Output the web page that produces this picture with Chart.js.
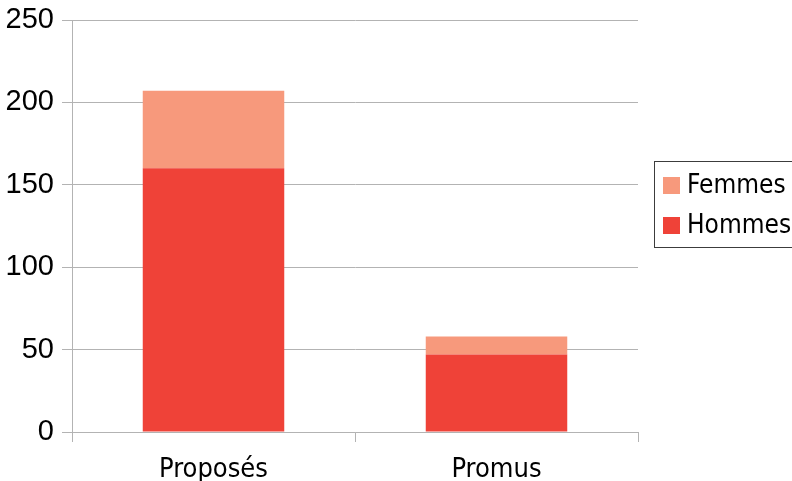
<!DOCTYPE html>
<html>
<head>
<meta charset="utf-8">
<script src="https://cdn.jsdelivr.net/npm/chart.js@4"></script>
<style>
  html, body { margin: 0; padding: 0; background: #fff; }
  canvas { display: block; }
</style>
</head>
<body>
<canvas id="canvas" width="792" height="481"></canvas>
<script>
const categories = ['Proposés', 'Promus'];
const hommes = [160, 47];
const femmes = [47, 11];
const yMax = 250;
const yStep = 50;

const gridColor = '#b3b3b3';
const labelFont = "'DejaVu Sans Condensed', 'DejaVu Sans', sans-serif";

// legend drawn by hand : box with a border, cut at the right edge
const boxLegend = {
  id: 'boxLegend',
  afterDraw(chart) {
    const ctx = chart.ctx;
    ctx.save();
    ctx.strokeStyle = '#3c3c3c';
    ctx.lineWidth = 1;
    ctx.strokeRect(654.5, 161.5, 160, 86);
    const items = chart.data.datasets.slice().reverse();
    items.forEach((ds, i) => {
      const y = 177 + i * 40;
      ctx.fillStyle = ds.backgroundColor;
      ctx.fillRect(663, y, 17, 17);
      ctx.fillStyle = '#000';
      ctx.font = '26px ' + labelFont;
      ctx.textBaseline = 'middle';
      ctx.textAlign = 'left';
      ctx.fillText(ds.label, 687, y + 9);
    });
    ctx.restore();
  }
};

const data = {
  labels: categories,
  datasets: [
    {
      label: 'Hommes',
      data: hommes,
      backgroundColor: '#ef4238',
      barPercentage: 0.5,
      categoryPercentage: 1
    },
    {
      label: 'Femmes',
      data: femmes,
      backgroundColor: '#f7997c',
      barPercentage: 0.5,
      categoryPercentage: 1
    }
  ]
};

const config = {
  type: 'bar',
  data: data,
  options: {
    responsive: false,
    devicePixelRatio: 1,
    animation: false,
    layout: { padding: { top: 20, right: 154, left: 0, bottom: 0 } },
    plugins: {
      legend: { display: false },
      tooltip: { enabled: false }
    },
    scales: {
      x: {
        stacked: true,
        offset: true,
        afterFit(scale) { scale.height = 49; },
        grid: {
          offset: true,
          drawOnChartArea: false,
          drawTicks: true,
          tickLength: 10,
          color: gridColor
        },
        border: { display: true, color: gridColor },
        ticks: {
          color: '#000',
          padding: 12,
          font: { family: labelFont, size: 27 }
        }
      },
      y: {
        stacked: true,
        min: 0,
        max: yMax,
        afterFit(scale) {
          scale.width = 72;
          scale.paddingTop = 0;
          scale.paddingBottom = 0;
        },
        grid: { color: gridColor, tickLength: 10 },
        border: { display: true, color: gridColor },
        ticks: {
          stepSize: yStep,
          color: '#000',
          padding: 8,
          font: { family: "'Liberation Sans', Arial, sans-serif", size: 29 }
        }
      }
    }
  },
  plugins: [boxLegend]
};

const canvas = document.getElementById('canvas');
const chart = new Chart(canvas, config);
</script>
</body>
</html>
